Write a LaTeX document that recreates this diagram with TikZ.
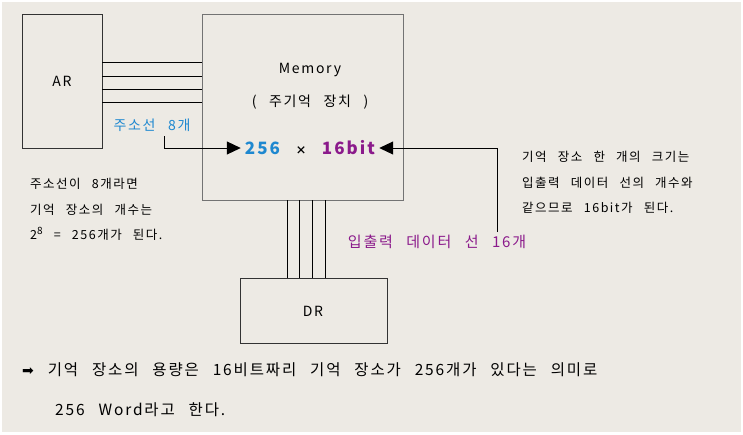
\documentclass[tikz,border=0pt]{standalone}
\usepackage{fontspec}
\setmainfont{Noto Sans CJK KR}[LetterSpace=12,WordSpace=2.6]
\usetikzlibrary{arrows.meta}
\definecolor{bg}{HTML}{EDEAE4}
\definecolor{bl}{HTML}{1E88D0}
\definecolor{pu}{HTML}{8B1A8B}
\begin{document}
\begin{tikzpicture}[x=1pt,y=-1pt,
  box/.style={draw=black!80,line width=1pt},
  txt/.style={font=\fontsize{14}{16}\selectfont,inner sep=0pt},
  note/.style={inner sep=0pt,align=left,font=\fontsize{12.5}{25.5}\selectfont},
  arr/.style={line width=1pt,-{Triangle[length=14pt,width=13pt]}}]
\useasboundingbox (0,0) rectangle (743,434);
\fill[white] (0,0) rectangle (743,434);
\fill[bg] (2,2) rectangle (741,432);
\draw[box] (22,14) rectangle (102,148);
\node[txt] (ar) at (62,81) {AR};
\draw[box,draw=black!55] (202,14) rectangle (403,200);
\node[txt] at (310,70) {Memory};
\node[txt] at (310,102) {( 주기억 장치 )};
\foreach \y in {62,76,89,102} \draw[line width=0.8pt] (102,\y) -- (202,\y);
\node[txt,text=bl] (al) at (152,125) {주소선 8개};
\node[txt,font=\fontsize{17}{18}\selectfont\bfseries,inner sep=4pt] (cap) at (310,148) {\textcolor{bl}{256} {\fontsize{11}{11}\selectfont ×} \textcolor{pu}{16bit}};
\coordinate (a1) at (164,136);
\draw[arr] (a1) |- (cap.west);
\coordinate (a2) at (497,232);
\draw[arr] (a2) |- (cap.east);
\foreach \x in {287,299,312,325} \draw[line width=0.8pt] (\x,200) -- (\x,278);
\draw[box] (240,278) rectangle (387,343);
\node[txt] (dr) at (313,311) {DR};
\node[txt,text=pu,font=\fontsize{15}{16}\selectfont] (dl) at (437,242) {입출력 데이터 선 16개};
\node[note,anchor=north west] (n1) at (522,151) {기억 장소 한 개의 크기는\\입출력 데이터 선의 개수와\\같으므로 16bit가 된다.};
\node[note,anchor=north west] (n2) at (30,178) {주소선이 8개라면\\기억 장소의 개수는\\2\raisebox{5pt}{\fontsize{10}{10}\selectfont 8} = 256개가 된다.};
\node[inner sep=0pt,anchor=west,font=\fontsize{15.5}{16}\selectfont] (b1) at (22,370) {{\fontspec{DejaVu Sans}\fontsize{14}{14}\selectfont ➡}\ 기억 장소의 용량은 16비트짜리 기억 장소가 256개가 있다는 의미로};
\node[inner sep=0pt,anchor=west,font=\fontsize{15.5}{16}\selectfont] (b2) at (55,410) {256 Word라고 한다.};
\end{tikzpicture}
\end{document}
